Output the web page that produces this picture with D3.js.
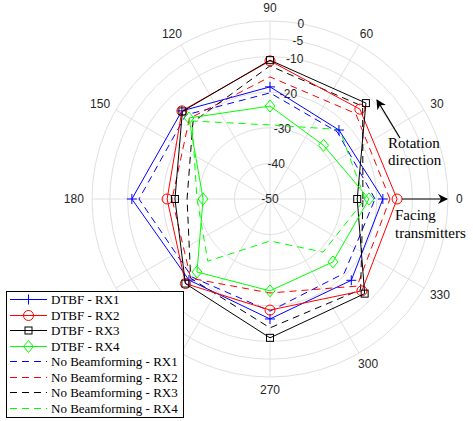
<!DOCTYPE html>
<html>
<head>
<meta charset="utf-8">
<script src="https://cdn.jsdelivr.net/npm/d3@7"></script>
<style>
body { margin: 0; background: #fff; }
svg { display: block; }
</style>
</head>
<body>
<svg width="473" height="421"></svg>
<script>
// measurement angles (deg), last point closes the polygon
var angles = [0, 45, 90, 135, 180, 225, 270, 315, 360];

var dtbfRX1 = [-18.3, -22.6, -18.5, -15.0, -11.2, -17.8, -16.3, -17.7, -18.3];
var dtbfRX2 = [-14.3, -14.3, -11.2, -15.0, -21.1, -16.4, -18.8, -13.5, -14.3];
var dtbfRX3 = [-25.5, -11.9, -11.0, -15.2, -23.3, -16.4, -11.0, -12.4, -25.5];
var dtbfRX4 = [-22.2, -28.7, -23.9, -17.8, -31.2, -21.0, -24.2, -25.0, -22.2];
var nobfRX1 = [-20.5, -23.3, -20.2, -16.6, -13.2, -19.0, -18.5, -20.5, -20.5];
var nobfRX2 = [-16.3, -16.0, -15.7, -18.0, -22.5, -18.5, -23.6, -15.4, -16.3];
var nobfRX3 = [-23.9, -13.2, -12.6, -19.4, -26.7, -18.5, -13.8, -14.0, -23.9];
var nobfRX4 = [-23.3, -22.4, -29.2, -19.0, -29.5, -25.3, -38.2, -28.9, -23.3];

var rTicks = [-50, -40, -30, -20, -10, -5, 0];
var thetaTicks = [0, 30, 60, 90, 120, 150, 180, 210, 240, 270, 300, 330];

var series = [
	{name: 'DTBF - RX1', data: dtbfRX1, color: '#0000ff', dash: null, marker: 'plus'},
	{name: 'DTBF - RX2', data: dtbfRX2, color: '#ff0000', dash: null, marker: 'circle'},
	{name: 'DTBF - RX3', data: dtbfRX3, color: '#000000', dash: null, marker: 'square'},
	{name: 'DTBF - RX4', data: dtbfRX4, color: '#00ff00', dash: null, marker: 'diamond'},
	{name: 'No Beamforming - RX1', data: nobfRX1, color: '#0000ff', dash: '7,5', marker: null},
	{name: 'No Beamforming - RX2', data: nobfRX2, color: '#ff0000', dash: '7,5', marker: null},
	{name: 'No Beamforming - RX3', data: nobfRX3, color: '#000000', dash: '7,5', marker: null},
	{name: 'No Beamforming - RX4', data: nobfRX4, color: '#00ff00', dash: '7,5', marker: null}
];

var svg = d3.select('svg'),
	cx = 270, cy = 199, R = 178;

var r = d3.scaleLinear().domain([-50, 0]).range([0, R]);
var a = d3.scaleLinear().domain([0, 360]).range([0, 2 * Math.PI]);

function px(deg, db) { return cx + r(db) * Math.cos(a(deg)); }
function py(deg, db) { return cy - r(db) * Math.sin(a(deg)); }

var g = svg.append('g');

// grid
g.selectAll('.ring')
	.data(rTicks.filter(function(d) { return d > -50; }))
	.enter().append('circle')
	.attr('cx', cx).attr('cy', cy)
	.attr('r', function(d) { return r(d); })
	.attr('fill', 'none')
	.attr('stroke', '#e0e0e0')
	.attr('stroke-width', 1);

g.selectAll('.spoke')
	.data(thetaTicks)
	.enter().append('line')
	.attr('x1', cx).attr('y1', cy)
	.attr('x2', function(d) { return px(d, 0); })
	.attr('y2', function(d) { return py(d, 0); })
	.attr('stroke', '#e0e0e0')
	.attr('stroke-width', 1);

// theta labels (210 and 240 sit under the legend)
g.selectAll('.tlab')
	.data(thetaTicks.filter(function(d) { return d !== 210 && d !== 240; }))
	.enter().append('text')
	.attr('x', function(d) {
		var c = Math.cos(a(d)), hw = String(d).length * 3.4;
		return cx + (R + 8) * c + hw * c;
	})
	.attr('y', function(d) {
		var s = Math.sin(a(d));
		return cy - (R + 8) * s - 5 * s;
	})
	.attr('text-anchor', 'middle')
	.attr('dominant-baseline', 'central')
	.attr('font-family', 'Liberation Sans, Arial, sans-serif')
	.attr('font-size', 12)
	.attr('fill', '#262626')
	.text(function(d) { return d; });

// r labels at 80 deg
g.selectAll('.rlab')
	.data(rTicks)
	.enter().append('text')
	.attr('x', function(d) { return px(80, d); })
	.attr('y', function(d) { return py(80, d); })
	.attr('text-anchor', 'middle')
	.attr('dominant-baseline', 'central')
	.attr('font-family', 'Liberation Sans, Arial, sans-serif')
	.attr('font-size', 12)
	.attr('fill', '#262626')
	.text(function(d) { return d; });

var line = d3.line()
	.x(function(d, i) { return px(angles[i], d); })
	.y(function(d, i) { return py(angles[i], d); });

function drawMarker(sel, type, color) {
	if (type === 'plus') {
		sel.append('path').attr('d', 'M-5,0H5M0,-5V5')
			.attr('stroke', color).attr('fill', 'none');
	} else if (type === 'circle') {
		sel.append('circle').attr('r', 5)
			.attr('stroke', color).attr('fill', 'none');
	} else if (type === 'square') {
		sel.append('rect').attr('x', -3.5).attr('y', -3.5).attr('width', 7).attr('height', 7)
			.attr('stroke', color).attr('fill', 'none');
	} else if (type === 'diamond') {
		sel.append('path').attr('d', 'M0,-6L5,0L0,6L-5,0Z')
			.attr('stroke', color).attr('fill', 'none');
	}
}

// draw dashed first then solid on top
var order = series.slice(4).concat(series.slice(0, 4));
order.forEach(function(s) {
	g.append('path')
		.datum(s.data)
		.attr('fill', 'none')
		.attr('stroke', s.color)
		.attr('stroke-width', 1)
		.attr('stroke-dasharray', s.dash)
		.attr('d', line);
	if (s.marker) {
		s.data.slice(0, -1).forEach(function(d, i) {
			var m = g.append('g')
				.attr('transform', 'translate(' + px(angles[i], d) + ',' + py(angles[i], d) + ')');
			drawMarker(m, s.marker, s.color);
		});
	}
});

// annotations
svg.append('defs').append('marker')
	.attr('id', 'ah')
	.attr('viewBox', '0 0 10 10')
	.attr('refX', 9).attr('refY', 5)
	.attr('markerWidth', 14).attr('markerHeight', 10)
	.attr('markerUnits', 'userSpaceOnUse')
	.attr('orient', 'auto')
	.append('path').attr('d', 'M0,0L10,5L0,10L3,5Z').attr('fill', '#000');

svg.append('line')
	.attr('x1', 400).attr('y1', 138).attr('x2', 377).attr('y2', 100)
	.attr('stroke', '#000').attr('stroke-width', 1.2)
	.attr('marker-end', 'url(#ah)');
svg.append('line')
	.attr('x1', px(0, dtbfRX2[0]) + 5).attr('y1', cy).attr('x2', 447).attr('y2', cy)
	.attr('stroke', '#000').attr('stroke-width', 1.2)
	.attr('marker-end', 'url(#ah)');

var notes = [
	{t: 'Rotation', x: 388, y: 143},
	{t: 'direction', x: 388, y: 160},
	{t: 'Facing', x: 395, y: 215},
	{t: 'transmitters', x: 395, y: 233}
];
svg.selectAll('.note')
	.data(notes)
	.enter().append('text')
	.attr('x', function(d) { return d.x; })
	.attr('y', function(d) { return d.y; })
	.attr('dominant-baseline', 'central')
	.attr('font-family', 'Liberation Serif, DejaVu Serif, serif')
	.attr('font-size', 15)
	.attr('fill', '#000')
	.text(function(d) { return d.t; });

// legend
var leg = svg.append('g');
leg.append('rect')
	.attr('x', 6.5).attr('y', 291.5).attr('width', 177).attr('height', 126)
	.attr('fill', '#fff').attr('stroke', '#000').attr('stroke-width', 1);

series.forEach(function(s, i) {
	var y = Math.round(299 + i * 15.5) + 0.5;
	leg.append('line')
		.attr('x1', 10).attr('x2', 47).attr('y1', y).attr('y2', y)
		.attr('stroke', s.color).attr('stroke-dasharray', s.dash);
	if (s.marker) {
		var m = leg.append('g').attr('transform', 'translate(28.5,' + y + ')');
		drawMarker(m, s.marker, s.color);
	}
	leg.append('text')
		.attr('x', 51).attr('y', y)
		.attr('dominant-baseline', 'central')
		.attr('font-family', 'Liberation Serif, DejaVu Serif, serif')
		.attr('font-size', 13)
		.attr('fill', '#000')
		.text(s.name);
});
</script>
</body>
</html>
